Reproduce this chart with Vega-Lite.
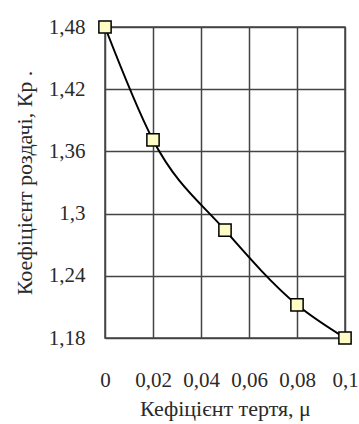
{
  "$schema": "https://vega.github.io/schema/vega-lite/v6.json",
  "autosize": {"type": "none"},
  "width": 240,
  "height": 311,
  "padding": {"left": 105, "top": 27, "right": 14, "bottom": 86},
  "background": "white",
  "config": {
    "font": "serif",
    "view": {"stroke": "#444", "strokeWidth": 1.5},
    "style": {
      "guide-label": {"font": "serif"},
      "guide-title": {"font": "serif"}
    },
    "axis": {
      "grid": true,
      "gridColor": "#444",
      "gridWidth": 1.5,
      "gridOpacity": 1,
      "domain": false,
      "ticks": false,
      "labelFontSize": 21,
      "titleFontSize": 22,
      "labelColor": "#2a2a2a",
      "titleColor": "#2a2a2a",
      "titleFontWeight": "normal"
    }
  },
  "data": {
    "values": [
      {"mu": 0, "kp": 1.48},
      {"mu": 0.02, "kp": 1.371},
      {"mu": 0.05, "kp": 1.284},
      {"mu": 0.08, "kp": 1.212},
      {"mu": 0.1, "kp": 1.18}
    ]
  },
  "encoding": {
    "x": {
      "field": "mu",
      "type": "quantitative",
      "scale": {"domain": [0, 0.1], "nice": false, "zero": false},
      "axis": {
        "values": [0, 0.02, 0.04, 0.06, 0.08, 0.1],
        "labelExpr": "replace(format(datum.value, '.2~f'), '.', ',')",
        "labelFont": "Liberation Serif",
        "titleFont": "Liberation Serif",
        "labelPadding": 31,
        "labelFlush": false,
        "title": "Кефіцієнт тертя, μ",
        "titlePadding": 8
      }
    },
    "y": {
      "field": "kp",
      "type": "quantitative",
      "scale": {"domain": [1.18, 1.48], "nice": false, "zero": false},
      "axis": {
        "values": [1.18, 1.24, 1.3, 1.36, 1.42, 1.48],
        "labelExpr": "replace(format(datum.value, '.2~f'), '.', ',')",
        "labelFont": "Liberation Serif",
        "titleFont": "Liberation Serif",
        "labelPadding": 20,
        "labelFlush": false,
        "title": "Коефіцієнт роздачі, Кр .",
        "titlePadding": 12
      }
    }
  },
  "layer": [
    {
      "mark": {"type": "line", "color": "black", "strokeWidth": 2, "interpolate": "monotone", "clip": false}
    },
    {
      "mark": {"type": "square", "size": 150, "filled": true, "fill": "#fdfcc4", "stroke": "black", "strokeWidth": 1.5, "opacity": 1, "clip": false}
    }
  ]
}
